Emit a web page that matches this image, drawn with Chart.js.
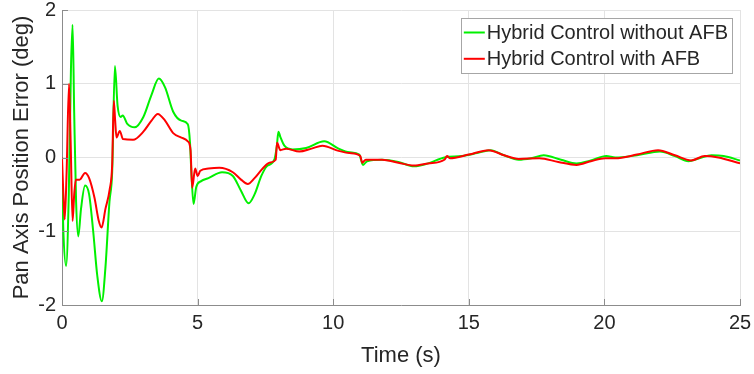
<!DOCTYPE html>
<html>
<head>
<meta charset="utf-8">
<script src="https://cdn.jsdelivr.net/npm/chart.js@4/dist/chart.umd.min.js"></script>
<style>
  html, body { margin: 0; padding: 0; background: #ffffff; }
  #wrap { width: 754px; height: 374px; }
</style>
</head>
<body>
<div id="wrap"><canvas id="chart" width="754" height="374"></canvas></div>
<script>
// Pan axis position error (deg) over time (s)
const seriesLabels = ['Hybrid Control without AFB', 'Hybrid Control with AFB'];

// Hybrid control without AFB
const timeWithout = [0, 0.05, 0.15, 0.25, 0.33, 0.39, 0.45, 0.52, 0.6, 0.7, 0.85, 1.0, 1.15, 1.3, 1.47, 1.6, 1.75, 1.85, 1.95, 2.05, 2.16, 2.24, 2.4, 2.68, 3.0, 3.3, 3.57, 3.8, 4.1, 4.4, 4.64, 4.72, 4.77, 4.85, 4.95, 5.13, 5.4, 5.9, 6.3, 6.6, 6.88, 7.1, 7.35, 7.55, 7.83, 7.92, 7.98, 8.05, 8.2, 8.5, 9.0, 9.67, 10.2, 10.6, 10.96, 11.1, 11.25, 11.8, 12.4, 12.98, 13.5, 14.1, 14.75, 15.3, 15.8, 16.3, 16.84, 17.3, 17.76, 18.4, 18.97, 19.5, 20.07, 20.4, 21.2, 22.05, 22.6, 23.1, 23.5, 23.95, 24.4, 25];
const errorWithout = [-0.3, -1.0, -1.47, -0.5, 1.2, 1.8, 0.6, -0.6, -1.07, -0.7, -0.38, -0.5, -1.0, -1.6, -1.95, -1.5, -0.6, -0.2, 1.24, 0.7, 0.55, 0.57, 0.46, 0.41, 0.55, 0.85, 1.07, 0.95, 0.62, 0.5, 0.45, 0.2, -0.2, -0.63, -0.4, -0.32, -0.28, -0.2, -0.25, -0.45, -0.62, -0.5, -0.25, -0.12, -0.03, 0.15, 0.35, 0.28, 0.16, 0.11, 0.13, 0.22, 0.12, 0.07, 0.04, -0.1, -0.05, -0.03, -0.06, -0.12, -0.08, 0.0, 0.02, 0.06, 0.1, 0.03, -0.03, -0.01, 0.03, -0.03, -0.08, -0.04, 0.02, 0.0, 0.03, 0.08, 0.02, -0.05, -0.01, 0.03, 0.02, -0.04];

// Hybrid control with AFB
const timeWith = [0, 0.05, 0.1, 0.17, 0.26, 0.32, 0.39, 0.45, 0.51, 0.65, 0.85, 1.0, 1.2, 1.35, 1.46, 1.6, 1.76, 1.85, 1.91, 1.96, 2.01, 2.13, 2.25, 2.62, 3.0, 3.3, 3.53, 3.8, 4.1, 4.4, 4.64, 4.74, 4.8, 4.91, 5.0, 5.1, 5.4, 5.8, 6.3, 6.6, 6.85, 7.1, 7.4, 7.65, 7.88, 7.93, 8.05, 8.26, 8.75, 9.2, 9.6, 10.2, 10.6, 11.0, 11.07, 11.2, 11.8, 12.4, 12.98, 13.5, 14.1, 14.2, 14.3, 15.0, 15.73, 16.3, 16.84, 17.6, 18.3, 18.97, 19.5, 20.03, 20.4, 21.2, 21.98, 22.6, 23.2, 23.7, 24.2, 25];
const errorWith = [0.0, -0.5, -0.84, -0.2, 1.0, 0.2, -0.86, -0.5, -0.3, -0.3, -0.21, -0.28, -0.55, -0.85, -0.95, -0.7, -0.43, -0.1, 0.77, 0.5, 0.27, 0.36, 0.25, 0.24, 0.35, 0.5, 0.59, 0.5, 0.33, 0.27, 0.22, 0.1, -0.41, -0.15, -0.25, -0.18, -0.15, -0.14, -0.2, -0.3, -0.36, -0.28, -0.15, -0.07, -0.03, 0.2, 0.1, 0.12, 0.08, 0.12, 0.16, 0.09, 0.06, 0.02, -0.07, -0.03, -0.03, -0.07, -0.11, -0.08, -0.03, 0.02, -0.01, 0.04, 0.1, 0.03, -0.02, -0.01, -0.06, -0.1, -0.05, -0.01, -0.01, 0.04, 0.1, 0.03, -0.04, 0.02, 0.0, -0.08];

const xTicks = [0, 5, 10, 15, 20, 25];
const yTicks = [-2, -1, 0, 1, 2];

const FONT = '"Liberation Sans", Arial, Helvetica, sans-serif';
const TEXT = '#262626';
const GRID = '#e3e3e3';
const AXIS = '#8c8c8c';

const toPoints = (ts, vs) => ts.map((t, i) => ({ x: t, y: vs[i] }));

// Let the layout padding alone decide the plot frame; tick labels may overhang it
function noLabelOverhang(scale) {
  scale.paddingTop = 0;
  scale.paddingBottom = 0;
  scale.paddingLeft = 0;
  scale.paddingRight = 0;
}

// Legend box drawn inside the top-right corner of the plot area
const insideLegend = {
  id: 'insideLegend',
  afterDraw(chart) {
    const { ctx, chartArea } = chart;
    const fontSize = 20;
    ctx.save();
    ctx.font = fontSize + 'px ' + FONT;
    const sets = chart.data.datasets;
    let textW = 0;
    sets.forEach(ds => { textW = Math.max(textW, ctx.measureText(ds.label).width); });
    const padL = 3, sample = 21, gap = 2, padR = 4, rowH = 26.3;
    const w = padL + sample + gap + textW + padR;
    const h = rowH * sets.length + 2.5;
    const x = chartArea.right - 8 - w;
    const y = chartArea.top + 8;
    ctx.fillStyle = '#ffffff';
    ctx.fillRect(x, y, w, h);
    ctx.strokeStyle = '#a6a6a6';
    ctx.lineWidth = 1;
    ctx.strokeRect(Math.round(x) + 0.5, Math.round(y) + 0.5, Math.round(w), Math.round(h));
    ctx.textBaseline = 'middle';
    ctx.textAlign = 'left';
    sets.forEach((ds, i) => {
      const cy = y + 14.5 + i * rowH;
      ctx.strokeStyle = ds.borderColor;
      ctx.lineWidth = 2;
      ctx.beginPath();
      ctx.moveTo(x + padL, cy);
      ctx.lineTo(x + padL + sample, cy);
      ctx.stroke();
      ctx.fillStyle = TEXT;
      ctx.fillText(ds.label, x + padL + sample + gap, cy + 1);
    });
    ctx.restore();
  }
};

// Short tick marks pointing into the plot area
const innerTicks = {
  id: 'innerTicks',
  afterDatasetsDraw(chart) {
    const { ctx, chartArea, scales } = chart;
    const len = 6;
    ctx.save();
    ctx.lineWidth = 1;
    ctx.strokeStyle = AXIS;
    ctx.beginPath();
    xTicks.forEach(v => {
      const px = Math.round(scales.x.getPixelForValue(v)) + 0.5;
      ctx.moveTo(px, chartArea.bottom);
      ctx.lineTo(px, chartArea.bottom - len);
    });
    yTicks.forEach(v => {
      const py = Math.round(scales.y.getPixelForValue(v)) + 0.5;
      ctx.moveTo(chartArea.left, py);
      ctx.lineTo(chartArea.left + len, py);
    });
    ctx.stroke();
    ctx.restore();
  }
};

new Chart(document.getElementById('chart'), {
  type: 'line',
  data: {
    datasets: [
      {
        label: seriesLabels[0],
        data: toPoints(timeWithout, errorWithout),
        borderColor: '#00f000',
        borderWidth: 2,
        pointRadius: 0,
        cubicInterpolationMode: 'monotone',
        fill: false,
        order: 1
      },
      {
        label: seriesLabels[1],
        data: toPoints(timeWith, errorWith),
        borderColor: '#ff0000',
        borderWidth: 2,
        pointRadius: 0,
        cubicInterpolationMode: 'monotone',
        fill: false,
        order: 0
      }
    ]
  },
  options: {
    responsive: false,
    animation: false,
    events: [],
    layout: { padding: { left: 0, right: 14, top: 10, bottom: 0 } },
    plugins: {
      legend: { display: false },
      tooltip: { enabled: false }
    },
    scales: {
      x: {
        type: 'linear',
        min: 0,
        max: 25,
        afterFit(scale) { scale.height = 69; noLabelOverhang(scale); },
        afterBuildTicks(scale) { scale.ticks = xTicks.map(v => ({ value: v })); },
        ticks: {
          color: TEXT,
          font: { family: FONT, size: 20 },
          padding: 6,
          maxRotation: 0
        },
        grid: { color: GRID, drawTicks: false },
        border: { color: AXIS, width: 1 },
        title: {
          display: true,
          text: 'Time (s)',
          color: TEXT,
          font: { family: FONT, size: 22 },
          padding: { top: 0, bottom: 5 }
        }
      },
      y: {
        type: 'linear',
        min: -2,
        max: 2,
        afterFit(scale) { scale.width = 62; noLabelOverhang(scale); },
        afterBuildTicks(scale) { scale.ticks = yTicks.map(v => ({ value: v })); },
        ticks: {
          color: TEXT,
          font: { family: FONT, size: 20 },
          padding: 6
        },
        grid: { color: GRID, drawTicks: false },
        border: { color: AXIS, width: 1 },
        title: {
          display: true,
          text: 'Pan Axis Position Error (deg)',
          color: TEXT,
          font: { family: FONT, size: 22 },
          padding: { top: 9, bottom: 0 }
        }
      }
    }
  },
  plugins: [innerTicks, insideLegend]
});
</script>
</body>
</html>
